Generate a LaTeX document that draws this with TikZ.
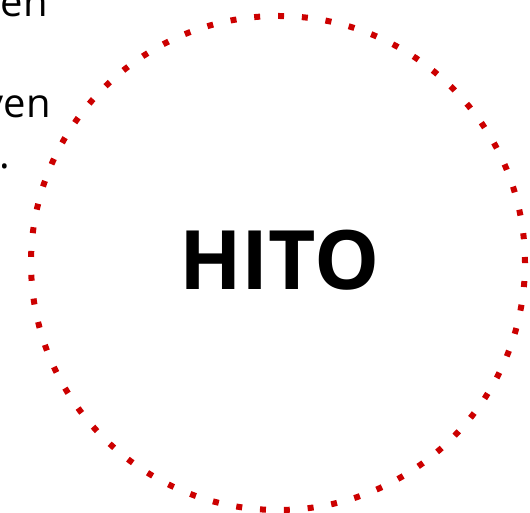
\documentclass[tikz,border=0pt]{standalone}
\usepackage{fontspec}
\setmainfont{Open Sans}
\definecolor{dotred}{RGB}{204,0,0}
\tikzset{
  sidetext/.style={font=\fontsize{40}{48}\selectfont, inner sep=0pt, anchor=base east},
  ring/.style={draw=dotred, line width=6pt, dash pattern=on 6pt off 17.876pt},
  title/.style={font=\fontsize{82}{98}\selectfont\bfseries, inner sep=0pt}
}
\begin{document}
\begin{tikzpicture}[x=1pt,y=1pt]
\useasboundingbox (0,0) rectangle (530,513);
\node[sidetext] (t1) at (48,496) {en};
\node[sidetext] (t2) at (51,395) {ven};
\node[sidetext] (t3) at (10,344) {.};
\draw[ring] (278,250) circle (247);
\node[title] (hito) at (279.5,253) {HITO};
\end{tikzpicture}
\end{document}
